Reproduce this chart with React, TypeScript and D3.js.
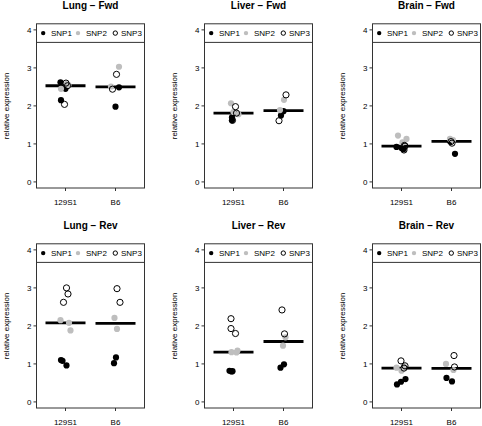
import React from "react";
import * as d3 from "d3";

type Obs = [string, number, number, number]; // strain, snp index, value, jitter (x units)

const strains = ["129S1", "B6"];
const snpLabels = ["SNP1", "SNP2", "SNP3"];
const yTicks = [0, 1, 2, 3, 4];
const panelTitles = ["Lung − Fwd", "Liver − Fwd", "Brain − Fwd", "Lung − Rev", "Liver − Rev", "Brain − Rev"];

const lungFwd: Obs[] = [
  ["129S1", 0, 2.62, -0.10], ["129S1", 0, 2.45, 0.0], ["129S1", 0, 2.15, -0.09],
  ["129S1", 1, 2.45, -0.09], ["129S1", 1, 2.58, 0.02], ["129S1", 1, 2.55, 0.06],
  ["129S1", 2, 2.60, 0.01], ["129S1", 2, 2.04, -0.02], ["129S1", 2, 2.53, 0.04],
  ["B6", 0, 2.49, 0.07], ["B6", 0, 1.98, 0.0],
  ["B6", 1, 3.03, 0.07], ["B6", 1, 2.51, -0.09],
  ["B6", 2, 2.83, 0.02], ["B6", 2, 2.44, -0.06],
];
const liverFwd: Obs[] = [
  ["129S1", 0, 1.70, -0.03], ["129S1", 0, 1.62, -0.03], ["129S1", 0, 1.82, 0.01],
  ["129S1", 1, 2.07, -0.05], ["129S1", 1, 1.84, 0.0], ["129S1", 1, 1.78, 0.10],
  ["129S1", 2, 1.98, 0.04], ["129S1", 2, 1.62, -0.02], ["129S1", 2, 1.81, 0.06],
  ["B6", 0, 1.86, 0.0], ["B6", 0, 1.75, -0.05],
  ["B6", 1, 2.16, 0.01], ["B6", 1, 1.89, -0.07],
  ["B6", 2, 2.29, 0.05], ["B6", 2, 1.61, -0.09],
];
const brainFwd: Obs[] = [
  ["129S1", 0, 0.92, -0.10], ["129S1", 0, 0.89, 0.0], ["129S1", 0, 0.86, 0.04],
  ["129S1", 1, 1.22, -0.07], ["129S1", 1, 1.13, 0.10], ["129S1", 1, 1.04, 0.02],
  ["129S1", 2, 0.84, 0.05], ["129S1", 2, 0.96, 0.06], ["129S1", 2, 0.94, 0.07],
  ["B6", 0, 0.74, 0.07], ["B6", 0, 1.07, -0.03],
  ["B6", 1, 1.13, -0.03], ["B6", 1, 1.10, 0.03],
  ["B6", 2, 1.02, 0.01], ["B6", 2, 1.06, -0.01],
];
const lungRev: Obs[] = [
  ["129S1", 0, 1.10, -0.09], ["129S1", 0, 1.08, -0.06], ["129S1", 0, 0.96, 0.02],
  ["129S1", 1, 2.15, -0.10], ["129S1", 1, 2.08, 0.07], ["129S1", 1, 1.88, 0.10],
  ["129S1", 2, 3.00, 0.02], ["129S1", 2, 2.84, 0.05], ["129S1", 2, 2.62, -0.04],
  ["B6", 0, 1.17, 0.01], ["B6", 0, 1.02, -0.03],
  ["B6", 1, 2.21, -0.02], ["B6", 1, 1.92, 0.03],
  ["B6", 2, 2.98, 0.03], ["B6", 2, 2.62, 0.09],
];
const liverRev: Obs[] = [
  ["129S1", 0, 0.82, -0.08], ["129S1", 0, 0.80, -0.04], ["129S1", 0, 0.81, -0.02],
  ["129S1", 1, 1.31, -0.04], ["129S1", 1, 1.35, 0.08], ["129S1", 1, 1.30, 0.06],
  ["129S1", 2, 2.19, -0.05], ["129S1", 2, 1.93, -0.05], ["129S1", 2, 1.80, 0.04],
  ["B6", 0, 0.99, 0.01], ["B6", 0, 0.90, -0.06],
  ["B6", 1, 1.70, 0.04], ["B6", 1, 1.48, -0.01],
  ["B6", 2, 2.42, -0.03], ["B6", 2, 1.79, 0.02],
];
const brainRev: Obs[] = [
  ["129S1", 0, 0.46, -0.09], ["129S1", 0, 0.53, -0.01], ["129S1", 0, 0.60, 0.08],
  ["129S1", 1, 0.90, -0.10], ["129S1", 1, 0.82, 0.0], ["129S1", 1, 0.93, 0.05],
  ["129S1", 2, 1.08, -0.01], ["129S1", 2, 0.89, 0.05], ["129S1", 2, 0.95, 0.07],
  ["B6", 0, 0.63, -0.10], ["B6", 0, 0.54, 0.01],
  ["B6", 1, 1.00, -0.11], ["B6", 1, 0.84, 0.04],
  ["B6", 2, 1.22, 0.05], ["B6", 2, 0.92, 0.06],
];
const panelData = [lungFwd, liverFwd, brainFwd, lungRev, liverRev, brainRev];

const GRAY = "#bebebe";
const FONT = "Liberation Sans, Arial, Helvetica, sans-serif";

function Marker({ cx, cy, snp, r }: { cx: number; cy: number; snp: number; r: number }) {
  if (snp === 2) return <circle cx={cx} cy={cy} r={r} fill="none" stroke="#000" strokeWidth={1} />;
  return <circle cx={cx} cy={cy} r={r} fill={snp === 0 ? "#000" : GRAY} />;
}

function Panel({ data, title, index }: { data: Obs[]; title: string; index: number }) {
  const col = index % 3;
  const row = Math.floor(index / 3);
  const left = 36.5 + col * 168;
  const width = 108;
  const top = 23.8 + row * 220;
  const height = 164.2;
  const right = left + width;
  const bottom = top + height;
  const x = d3.scaleLinear().domain([0.42, 2.58]).range([left, right]);
  const y = d3.scaleLinear().domain([-0.16, 4.16]).range([bottom, top]);
  const legendBottom = top + 18.6;
  const legendMid = top + 9.3;
  const legendItems = [
    { dot: 6.7, text: 14.5 },
    { dot: 41.5, text: 49.5 },
    { dot: 78.8, text: 84.5 },
  ];
  const medians = strains.map((s) => d3.median(data.filter((d) => d[0] === s), (d) => d[2]) as number);
  const ordered = [0, 1, 2].flatMap((k) => data.filter((d) => d[1] === k));
  return (
    <g fill="#000">
      <text x={(left + right) / 2} y={top - 14.5} textAnchor="middle" fontWeight="bold" fontSize={10} fontFamily={FONT} fill="#000">
        {title}
      </text>
      <text
        transform={`translate(${left - 30},${(top + bottom) / 2}) rotate(-90)`}
        textAnchor="middle"
        dominantBaseline="central"
        fontSize={8}
        fontFamily={FONT}
        fill="#000"
      >
        relative expression
      </text>
      {yTicks.map((t) => (
        <g key={t}>
          <line x1={left - 3} x2={left} y1={y(t)} y2={y(t)} stroke="#333" />
          <text x={left - 5} y={y(t) + 2.9} textAnchor="end" fontSize={8} fontFamily={FONT} fill="#000">
            {String(t)}
          </text>
        </g>
      ))}
      {strains.map((s, i) => (
        <g key={s}>
          <line x1={x(i + 1)} x2={x(i + 1)} y1={bottom} y2={bottom + 3} stroke="#333" />
          <text x={x(i + 1)} y={bottom + 16.5} textAnchor="middle" fontSize={8} fontFamily={FONT} fill="#000">
            {s}
          </text>
        </g>
      ))}
      {medians.map((m, i) => (
        <line key={i} x1={x(i + 1 - 0.4)} x2={x(i + 1 + 0.4)} y1={y(m)} y2={y(m)} stroke="#000" strokeWidth={2.8} />
      ))}
      {ordered.map((d, j) => (
        <Marker key={j} cx={x(strains.indexOf(d[0]) + 1 + d[3])} cy={y(d[2])} snp={d[1]} r={3.1} />
      ))}
      <line x1={left} x2={right} y1={legendBottom} y2={legendBottom} stroke="#333" />
      {snpLabels.map((lab, k) => (
        <g key={lab}>
          <Marker cx={left + legendItems[k].dot} cy={legendMid} snp={k} r={2.2} />
          <text x={left + legendItems[k].text} y={legendMid + 2.9} fontSize={8} fontFamily={FONT} fill="#000">
            {lab}
          </text>
        </g>
      ))}
      <rect x={left} y={top} width={width} height={height} fill="none" stroke="#333" />
    </g>
  );
}

export default function App() {
  return (
    <svg width={482} height={426} style={{ position: "absolute", left: 0, top: 0 }}>
      <rect width={482} height={426} fill="#fff" />
      {panelData.map((d, i) => (
        <Panel key={i} data={d} title={panelTitles[i]} index={i} />
      ))}
    </svg>
  );
}
